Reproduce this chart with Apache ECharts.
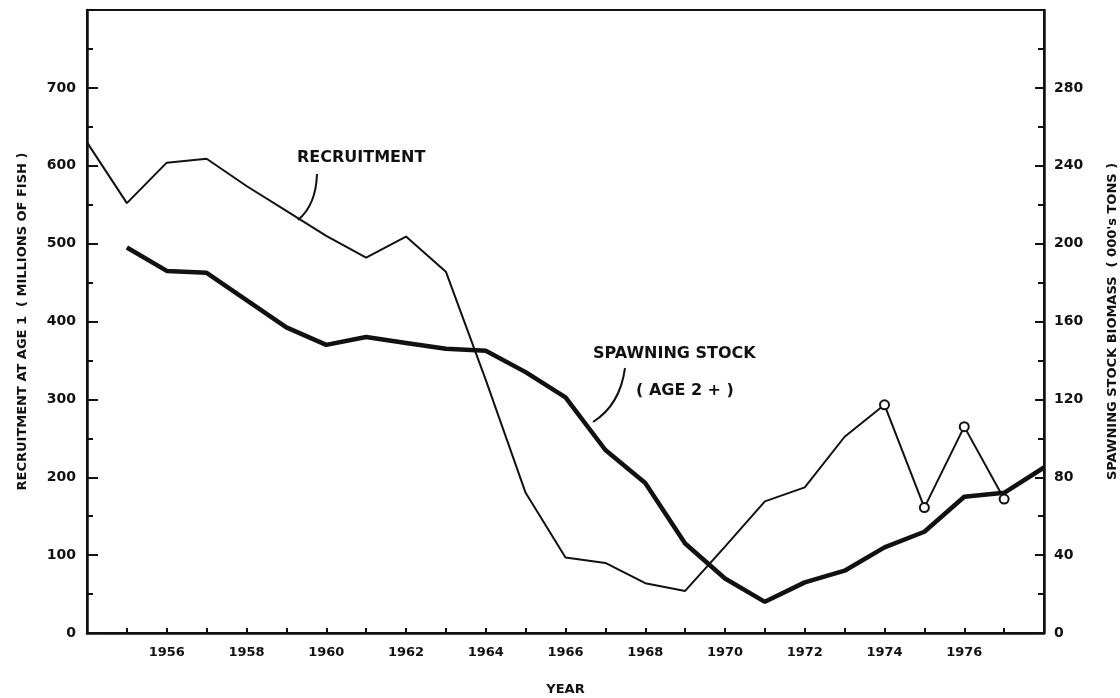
<!DOCTYPE html>
<html>
<head>
<meta charset="utf-8">
<script src="https://cdn.jsdelivr.net/npm/echarts@6/dist/echarts.min.js"></script>
<style>
  html, body { margin: 0; padding: 0; background: #fff; }
  #chart { width: 1120px; height: 698px; }
</style>
</head>
<body>
<div id="chart"></div>
<script>
var years = [1954, 1955, 1956, 1957, 1958, 1959, 1960, 1961, 1962, 1963, 1964, 1965,
  1966, 1967, 1968, 1969, 1970, 1971, 1972, 1973, 1974, 1975, 1976, 1977, 1978];
// millions of fish, left axis
var recruitment = [630, 552, 604, 609, 574, 542, 510, 482, 509, 464, 325, 180,
  97, 90, 64, 54, 111, 169, 187, 252, 293, 161, 265, 172, null];
// 000's tons, right axis
var spawning = [null, 198, 186, 185, 171, 157, 148, 152, 149, 146, 145, 134,
  121, 94, 77, 46, 28, 16, 26, 32, 44, 52, 70, 72, 85];
var circledYears = [1974, 1975, 1976, 1977];

var chartDom = document.getElementById("chart");
var myChart = echarts.init(chartDom);
var option;

var font = "DejaVu Sans";
var ink = "#111";

function pairs(vals) {
  return years.map(function (y, i) {
    if (vals[i] == null) return [y, null];
    if (vals === recruitment && circledYears.indexOf(y) >= 0) {
      return { value: [y, vals[i]], symbol: "circle", symbolSize: 9 };
    }
    return [y, vals[i]];
  });
}

option = {
  backgroundColor: "#fff",
  animation: false,
  grid: {
    left: 87, right: 76, top: 10, bottom: 65,
    outerBoundsMode: "none",
    containLabel: false,
    show: true, borderColor: ink, borderWidth: 2, backgroundColor: "transparent"
  },
  xAxis: {
    type: "value",
    min: 1954, max: 1978, interval: 1,
    name: "YEAR", nameLocation: "middle", nameGap: 50,
    nameTextStyle: { fontFamily: font, fontWeight: "bold", fontSize: 13, color: ink },
    axisLine: { lineStyle: { color: ink, width: 2.5 } },
    axisTick: { inside: true, length: 5, lineStyle: { color: ink, width: 2 } },
    axisLabel: {
      margin: 13, fontFamily: font, fontWeight: "bold", fontSize: 13, color: ink,
      formatter: function (v) {
        return (v % 2 === 0 && v > 1954 && v < 1978) ? String(v) : "";
      }
    },
    splitLine: { show: false }
  },
  yAxis: [
    {
      type: "value", min: 0, max: 800, interval: 100,
      name: "RECRUITMENT AT AGE 1  ( MILLIONS OF FISH )",
      nameLocation: "middle", nameGap: 58, nameRotate: 90,
      nameTextStyle: { fontFamily: font, fontWeight: "bold", fontSize: 13, color: ink },
      axisLine: { show: true, lineStyle: { color: ink, width: 2.5 } },
      axisTick: { inside: true, length: 11, lineStyle: { color: ink, width: 2 } },
      minorTick: { show: true, splitNumber: 2, length: 6, lineStyle: { color: ink, width: 2 } },
      axisLabel: {
        margin: 11, fontFamily: font, fontWeight: "bold", fontSize: 14, color: ink,
        formatter: function (v) { return v >= 800 ? "" : String(v); }
      },
      splitLine: { show: false }
    },
    {
      type: "value", min: 0, max: 320, interval: 40, position: "right",
      name: "SPAWNING STOCK BIOMASS  ( 000's TONS )",
      nameLocation: "middle", nameGap: 62, nameRotate: 90,
      nameTextStyle: { fontFamily: font, fontWeight: "bold", fontSize: 13, color: ink },
      axisLine: { show: true, lineStyle: { color: ink, width: 2.5 } },
      axisTick: { inside: true, length: 9, lineStyle: { color: ink, width: 2 } },
      minorTick: { show: true, splitNumber: 2, length: 6, lineStyle: { color: ink, width: 2 } },
      axisLabel: {
        margin: 10, fontFamily: font, fontWeight: "bold", fontSize: 14, color: ink,
        formatter: function (v) { return v >= 320 ? "" : String(v); }
      },
      splitLine: { show: false }
    }
  ],
  series: [
    {
      name: "RECRUITMENT",
      type: "line",
      yAxisIndex: 0,
      data: pairs(recruitment),
      symbol: "none",
      showSymbol: true,
      connectNulls: false,
      lineStyle: { color: ink, width: 2 },
      itemStyle: { color: "#fff", borderColor: ink, borderWidth: 2 },
      z: 3
    },
    {
      name: "SPAWNING STOCK",
      type: "line",
      yAxisIndex: 1,
      data: pairs(spawning),
      symbol: "none",
      lineStyle: { color: ink, width: 4.5 },
      z: 2
    }
  ],
  graphic: [
    {
      type: "text", left: 297, top: 150,
      style: { text: "RECRUITMENT", font: "bold 16px DejaVu Sans", fill: ink }
    },
    {
      type: "bezierCurve",
      shape: { x1: 317, y1: 174, x2: 298, y2: 220, cpx1: 316, cpy1: 205 },
      style: { stroke: ink, lineWidth: 2, fill: "none" }
    },
    {
      type: "text", left: 593, top: 346,
      style: { text: "SPAWNING STOCK", font: "bold 16px DejaVu Sans", fill: ink }
    },
    {
      type: "text", left: 636, top: 383,
      style: { text: "( AGE 2 + )", font: "bold 16px DejaVu Sans", fill: ink }
    },
    {
      type: "bezierCurve",
      shape: { x1: 625, y1: 368, x2: 593, y2: 422, cpx1: 620, cpy1: 405 },
      style: { stroke: ink, lineWidth: 2, fill: "none" }
    }
  ]
};

option && myChart.setOption(option);
</script>
</body>
</html>
